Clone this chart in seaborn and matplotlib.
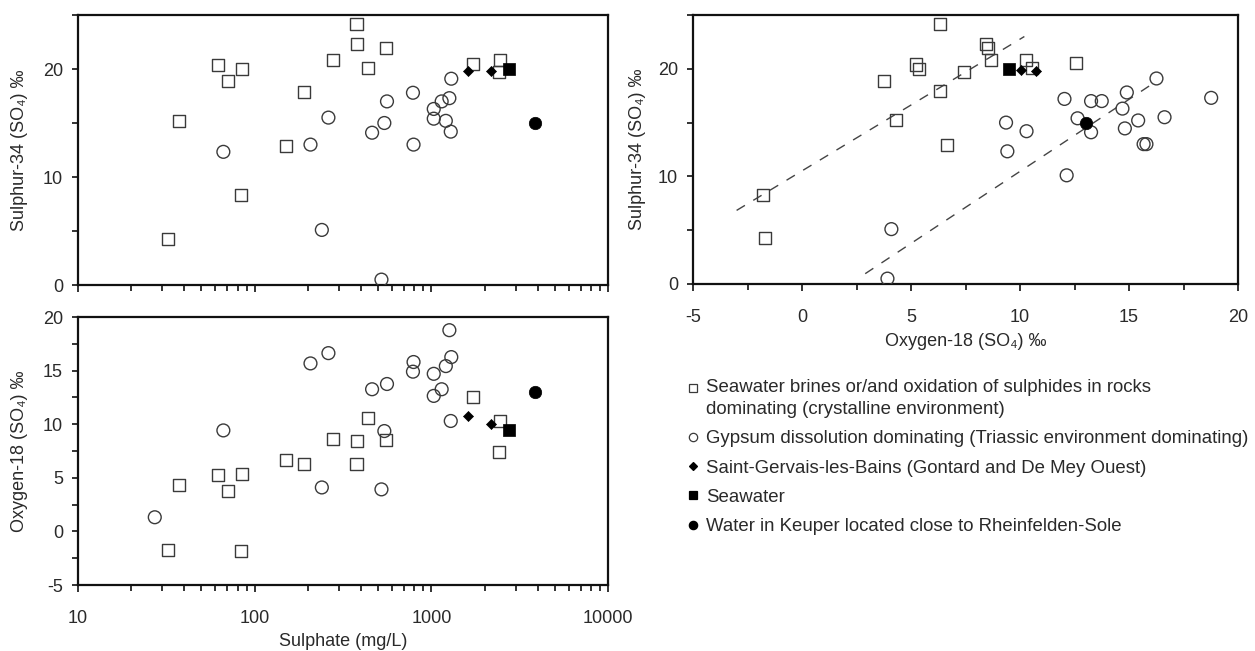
import numpy as np
import matplotlib
matplotlib.use("Agg")
import matplotlib.pyplot as plt
import seaborn as sns
from matplotlib.ticker import FixedLocator, FuncFormatter, MultipleLocator, NullFormatter
from matplotlib.lines import Line2D
from matplotlib.legend_handler import HandlerLine2D

# ---------------- data ----------------
# Seawater brines or/and oxidation of sulphides (open squares)
brine_so4 = [32.3, 37.5, 62.2, 70.5, 85.2, 83.9, 150, 190.6, 277, 377, 381, 439, 553, 1729, 2443, 2410]
brine_s34 = [4.3, 15.2, 20.4, 18.9, 20.0, 8.3, 12.9, 17.9, 20.8, 24.2, 22.3, 20.1, 21.9, 20.5, 20.8, 19.7]
brine_o18 = [-1.7, 4.3, 5.25, 3.75, 5.35, -1.8, 6.64, 6.33, 8.65, 6.33, 8.43, 10.54, 8.52, 12.55, 10.29, 7.41]

# Gypsum dissolution dominating (open circles); NaN = not measured
gyps_so4 = [66.5, 207, 240, 261.5, 462, 542, 561, 522, 787, 793, 1032, 1032, 1144, 1208, 1265, 1288, 1297,
            27.2, np.nan, np.nan, np.nan]
gyps_s34 = [12.33, 13.0, 5.1, 15.5, 14.1, 15.0, 17.0, 0.5, 17.8, 13.0, 16.3, 15.4, 17.0, 15.2, 17.3, 14.2, 19.1,
            np.nan, 17.2, 10.1, 14.46]
gyps_o18 = [9.42, 15.67, 4.10, 16.63, 13.26, 9.36, 13.75, 3.92, 14.9, 15.8, 14.7, 12.64, 13.26, 15.42, 18.77,
            10.3, 16.26, 1.32, 12.04, 12.14, 14.81]

# Saint-Gervais-les-Bains (filled diamonds)
sg_so4 = [1617, 2168]
sg_s34 = [19.8, 19.85]
sg_o18 = [10.72, 10.04]

# Seawater (filled square)
sw_so4 = [2750]
sw_s34 = [20.0]
sw_o18 = [9.5]

# Water in Keuper close to Rheinfelden-Sole (filled circle)
kp_so4 = [3848]
kp_s34 = [15.0]
kp_o18 = [13.05]

# dashed trend lines in the O-18 / S-34 panel
trend1_o18 = [-3.0, 10.2]
trend1_s34 = [6.84, 23.0]
trend2_o18 = [2.9, 16.0]
trend2_s34 = [0.96, 18.5]

x_ticks_log = [10, 100, 1000, 10000]

labels = [
    "Seawater brines or/and oxidation of sulphides in rocks\ndominating (crystalline environment)",
    "Gypsum dissolution dominating (Triassic environment dominating)",
    "Saint-Gervais-les-Bains (Gontard and De Mey Ouest)",
    "Seawater",
    "Water in Keuper located close to Rheinfelden-Sole",
]

# ---------------- style ----------------
sns.set_style("ticks")
plt.rcParams["font.family"] = ["Liberation Sans", "DejaVu Sans"]
plt.rcParams["axes.unicode_minus"] = False
TXT = "#2a2a2a"
EDGE = "#3a3a3a"
FS = 13

groups = [
    dict(so4=brine_so4, s34=brine_s34, o18=brine_o18, marker="s", s=75, fc="none", ec=EDGE, lw=1.0, ms=5.5),
    dict(so4=gyps_so4, s34=gyps_s34, o18=gyps_o18, marker="o", s=85, fc="none", ec=EDGE, lw=1.0, ms=6.0),
    dict(so4=sg_so4, s34=sg_s34, o18=sg_o18, marker="D", s=26, fc="black", ec="black", lw=0.5, ms=4.0),
    dict(so4=sw_so4, s34=sw_s34, o18=sw_o18, marker="s", s=70, fc="black", ec="black", lw=0.5, ms=5.8),
    dict(so4=kp_so4, s34=kp_s34, o18=kp_o18, marker="o", s=80, fc="black", ec="black", lw=0.5, ms=6.0),
]

fig = plt.figure(figsize=(12.55, 6.51), dpi=100)
W, H = 1255.0, 651.0


def px_axes(l, r, t, b):
    return fig.add_axes([l / W, 1 - b / H, (r - l) / W, (b - t) / H])


ax1 = px_axes(78, 608, 15, 285)
ax2 = px_axes(78, 608, 317, 585)
ax3 = px_axes(693, 1238, 15, 284)


def draw(ax, xkey, ykey):
    for g in groups:
        sns.scatterplot(x=g[xkey], y=g[ykey], ax=ax, marker=g["marker"], s=g["s"],
                        facecolor=g["fc"], edgecolor=g["ec"], linewidth=g["lw"],
                        legend=False, zorder=3)


draw(ax1, "so4", "s34")
draw(ax2, "so4", "o18")
draw(ax3, "o18", "s34")

for tx, ty in [(trend1_o18, trend1_s34), (trend2_o18, trend2_s34)]:
    sns.lineplot(x=tx, y=ty, ax=ax3, color="#444444", linewidth=1.0,
                 linestyle=(0, (7, 7)), zorder=2, legend=False)

fmt = FuncFormatter(lambda v, p: f"{v:g}")

for ax in (ax1, ax2):
    ax.set_xscale("log")
    ax.set_xlim(10, 10000)
    ax.xaxis.set_major_locator(FixedLocator(x_ticks_log))
    ax.xaxis.set_minor_locator(FixedLocator([m * d for d in (10, 100, 1000) for m in range(2, 10)]))
    ax.xaxis.set_major_formatter(fmt)
    ax.xaxis.set_minor_formatter(NullFormatter())

ax1.set_ylim(0, 25)
ax1.yaxis.set_major_locator(MultipleLocator(10))
ax1.yaxis.set_minor_locator(MultipleLocator(5))
ax1.tick_params(axis="x", labelbottom=False)

ax2.set_ylim(-5, 20)
ax2.yaxis.set_major_locator(MultipleLocator(5))
ax2.yaxis.set_minor_locator(MultipleLocator(2.5))

ax3.set_xlim(-5, 20)
ax3.set_ylim(0, 25)
ax3.xaxis.set_major_locator(MultipleLocator(5))
ax3.xaxis.set_minor_locator(MultipleLocator(2.5))
ax3.yaxis.set_major_locator(MultipleLocator(10))
ax3.yaxis.set_minor_locator(MultipleLocator(5))

for ax in (ax1, ax2, ax3):
    for sp in ax.spines.values():
        sp.set_visible(True)
        sp.set_linewidth(1.6)
        sp.set_color("#111111")
    ax.tick_params(axis="y", which="both", direction="out", length=4.3, width=1.2, color="#111111",
                   labelsize=FS, labelcolor=TXT, pad=6.5)
    ax.tick_params(axis="x", which="major", direction="out", length=5, width=1.2, color="#111111",
                   labelsize=FS, labelcolor=TXT, pad=13)
    ax.tick_params(axis="x", which="minor", direction="out", length=4.3, width=1.2, color="#111111")
    ax.set_xlabel("")
    ax.set_ylabel("")

s34_label = "Sulphur-34 (SO\u2084) \u2030"
o18_label = "Oxygen-18 (SO\u2084) \u2030"
ax1.set_ylabel(s34_label, fontsize=FS, color=TXT)
ax2.set_ylabel(o18_label, fontsize=FS, color=TXT)
ax3.set_ylabel(s34_label, fontsize=FS, color=TXT)
ax2.set_xlabel("Sulphate (mg/L)", fontsize=FS, color=TXT)
ax3.set_xlabel(o18_label, fontsize=FS, color=TXT)

ax1.yaxis.set_label_coords(-58 / 530, 0.5)
ax2.yaxis.set_label_coords(-58 / 530, 0.5)
ax3.yaxis.set_label_coords(-56 / 545, 0.5)
ax2.xaxis.set_label_coords(0.5, -(642 - 585) / 268)
ax3.xaxis.set_label_coords(0.5, -(341 - 284) / 269)
ax2.xaxis.label.set_va("center")
ax3.xaxis.label.set_va("center")
for ax in (ax1, ax2, ax3):
    ax.yaxis.label.set_va("center")


class TopLineHandler(HandlerLine2D):
    """Place the marker level with the first line of a two-line label."""

    def __init__(self, shift, **kw):
        super().__init__(**kw)
        self.shift = shift

    def create_artists(self, legend, orig_handle, xdescent, ydescent, width, height, fontsize, trans):
        arts = super().create_artists(legend, orig_handle, xdescent, ydescent, width, height,
                                      fontsize, trans)
        for a in arts:
            a.set_ydata(np.asarray(a.get_ydata(), dtype=float) + self.shift)
        return arts


handles = []
for g, lab in zip(groups, labels):
    handles.append(Line2D([], [], linestyle="none", marker=g["marker"], markersize=g["ms"],
                          markerfacecolor=g["fc"], markeredgecolor=g["ec"],
                          markeredgewidth=0.9, label=lab))

leg = fig.legend(handles=handles, loc="upper left", bbox_to_anchor=(687 / W, 1 - 379 / H),
                 frameon=False, prop={"size": 13.4}, handlelength=0.6, handletextpad=0.42,
                 labelspacing=0.66, borderpad=0, borderaxespad=0,
                 handler_map={handles[0]: TopLineHandler(shift=7.5)})
for t in leg.get_texts():
    t.set_color(TXT)
    t.set_linespacing(1.38)

fig.savefig("out.png", dpi=100)
